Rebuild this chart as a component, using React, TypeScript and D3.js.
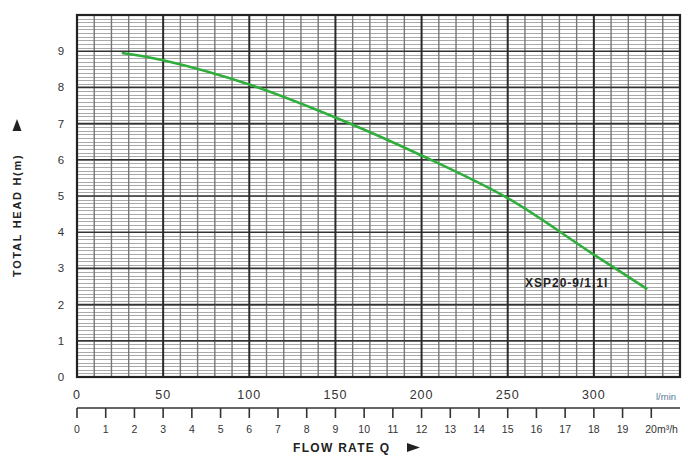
import React, { useEffect, useRef } from "react";
import * as d3 from "d3";

// pump curve: flow in l/min, head in m
const flow = [26, 50, 100, 150, 200, 250, 300, 331];
const head = [8.95, 8.75, 8.08, 7.17, 6.12, 4.94, 3.38, 2.43];
const headTicks = [0, 1, 2, 3, 4, 5, 6, 7, 8, 9];
const flowTicks = [0, 50, 100, 150, 200, 250, 300];
const cubicTicks = d3.range(0, 21);
const modelName = "XSP20-9/1.1I";

const App = () => {
  const ref = useRef<SVGSVGElement>(null);

  useEffect(() => {
    const svg = d3.select(ref.current);
    svg.selectAll("*").remove();

    const x = d3.scaleLinear().domain([0, 350]).range([77, 680]);
    const y = d3.scaleLinear().domain([0, 10]).range([377, 15]);
    const font = "Arial, 'Liberation Sans', sans-serif";

    svg.append("rect").attr("width", 688).attr("height", 456).attr("fill", "#fff");

    const grid = svg.append("g");
    // fine horizontal lines
    grid
      .selectAll("line.fh")
      .data(d3.range(0, 100).map((d) => d / 10))
      .join("line")
      .attr("x1", x(0))
      .attr("x2", x(350))
      .attr("y1", (d) => Math.round(y(d)) + 0.5)
      .attr("y2", (d) => Math.round(y(d)) + 0.5)
      .attr("stroke", "#aaa")
      .attr("stroke-width", 1);
    // vertical lines every 10 l/min
    grid
      .selectAll("line.v")
      .data(d3.range(10, 350, 10).filter((d) => d % 50 !== 0))
      .join("line")
      .attr("x1", (d) => x(d))
      .attr("x2", (d) => x(d))
      .attr("y1", y(0))
      .attr("y2", y(10))
      .attr("stroke", "#777")
      .attr("stroke-width", 1.4);
    // major horizontal
    grid
      .selectAll("line.mh")
      .data(d3.range(1, 10))
      .join("line")
      .attr("x1", x(0))
      .attr("x2", x(350))
      .attr("y1", (d) => y(d))
      .attr("y2", (d) => y(d))
      .attr("stroke", "#333")
      .attr("stroke-width", 1.6);
    // major vertical
    grid
      .selectAll("line.mv")
      .data(d3.range(50, 350, 50))
      .join("line")
      .attr("x1", (d) => x(d))
      .attr("x2", (d) => x(d))
      .attr("y1", y(0))
      .attr("y2", y(10))
      .attr("stroke", "#2a2a2a")
      .attr("stroke-width", 2);

    svg
      .append("rect")
      .attr("x", x(0))
      .attr("y", y(10))
      .attr("width", x(350) - x(0))
      .attr("height", y(0) - y(10))
      .attr("fill", "none")
      .attr("stroke", "#222")
      .attr("stroke-width", 2.2);

    // curve
    const pts = flow.map((q, i) => [q, head[i]] as [number, number]);
    const line = d3
      .line<[number, number]>()
      .x((d) => x(d[0]))
      .y((d) => y(d[1]))
      .curve(d3.curveCatmullRom);
    svg
      .append("path")
      .attr("d", line(pts))
      .attr("fill", "none")
      .attr("stroke", "#2fae3c")
      .attr("stroke-width", 2.6);

    svg
      .append("text")
      .attr("x", 525)
      .attr("y", 287)
      .attr("font-family", font)
      .attr("font-size", 12)
      .attr("font-weight", "bold")
      .attr("letter-spacing", 1)
      .attr("fill", "#222")
      .text(modelName);

    // head labels
    svg
      .append("g")
      .selectAll("text")
      .data(headTicks)
      .join("text")
      .attr("x", 61)
      .attr("y", (d) => y(d) + 4)
      .attr("text-anchor", "middle")
      .attr("font-family", font)
      .attr("font-size", 11.5)
      .attr("fill", "#333")
      .text((d) => d);

    // flow l/min labels
    svg
      .append("g")
      .selectAll("text")
      .data(flowTicks)
      .join("text")
      .attr("x", (d) => x(d))
      .attr("y", 399)
      .attr("text-anchor", "middle")
      .attr("font-family", font)
      .attr("font-size", 12.5)
      .attr("letter-spacing", 1)
      .attr("fill", "#333")
      .text((d) => d);

    svg
      .append("text")
      .attr("x", 656)
      .attr("y", 400)
      .attr("font-family", font)
      .attr("font-size", 9.5)
      .attr("fill", "#5a7a9a")
      .text("l/min");

    // m3/h axis
    const toL = (m: number) => (m * 1000) / 60;
    svg
      .append("line")
      .attr("x1", x(0))
      .attr("x2", x(350))
      .attr("y1", 408)
      .attr("y2", 408)
      .attr("stroke", "#333")
      .attr("stroke-width", 1.6);
    svg
      .append("g")
      .selectAll("line")
      .data(cubicTicks)
      .join("line")
      .attr("x1", (d) => x(toL(d)))
      .attr("x2", (d) => x(toL(d)))
      .attr("y1", 408)
      .attr("y2", 418)
      .attr("stroke", "#333")
      .attr("stroke-width", 1.6);
    svg
      .append("g")
      .selectAll("text")
      .data(cubicTicks)
      .join("text")
      .attr("x", (d) => x(toL(d)))
      .attr("y", 433)
      .attr("text-anchor", (d) => (d === 20 ? "start" : "middle"))
      .attr("dx", (d) => (d === 20 ? -6 : 0))
      .attr("font-family", font)
      .attr("font-size", 10.5)
      .attr("fill", "#333")
      .text((d) => (d === 20 ? "20m³/h" : d));

    // axis titles
    svg
      .append("text")
      .attr("x", 293)
      .attr("y", 452)
      .attr("font-family", font)
      .attr("font-size", 12)
      .attr("font-weight", "bold")
      .attr("letter-spacing", 1.3)
      .attr("fill", "#222")
      .text("FLOW RATE Q");
    // arrow to the right of the flow title
    svg
      .append("path")
      .attr("d", "M407,443 L420,447.5 L407,452 Z")
      .attr("fill", "#222");

    svg
      .append("text")
      .attr("transform", "translate(21,277) rotate(-90)")
      .attr("font-family", font)
      .attr("font-size", 11)
      .attr("font-weight", "bold")
      .attr("letter-spacing", 1.7)
      .attr("fill", "#222")
      .text("TOTAL HEAD H(m)");
    // arrow above the head title
    svg
      .append("path")
      .attr("d", "M12.5,131 L17,119 L21.5,131 Z")
      .attr("fill", "#222");
  }, []);

  return (
    <svg
      ref={ref}
      width={688}
      height={456}
      style={{ position: "fixed", left: 0, top: 0, display: "block" }}
    />
  );
};

export default App;
